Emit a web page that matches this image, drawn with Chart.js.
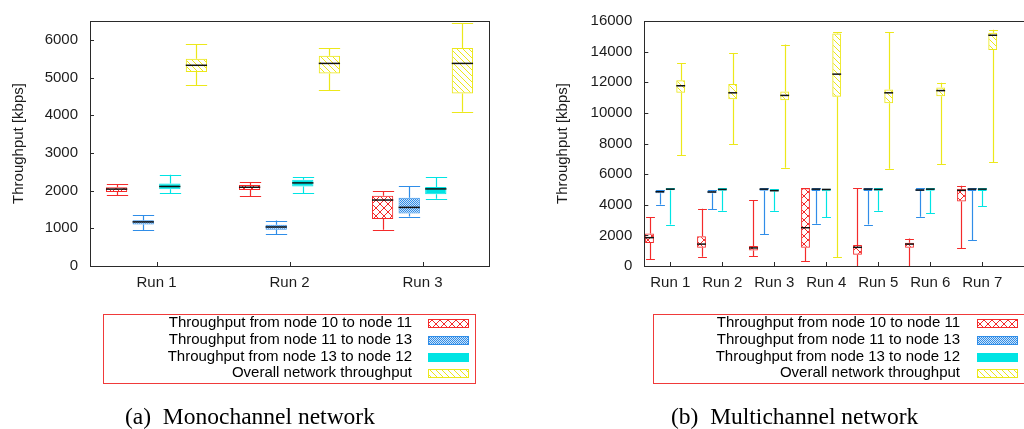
<!DOCTYPE html>
<html><head><meta charset="utf-8">
<script src="https://cdn.jsdelivr.net/npm/chart.js@4.4.1/dist/chart.umd.min.js"></script>
<style>
html,body{margin:0;padding:0;background:#fff;overflow:hidden;width:1024px;height:429px;}
#c1{position:absolute;left:0;top:0;}
#c2{position:absolute;left:512px;top:0;}
.cap{position:absolute;font-family:"Liberation Serif","Times New Roman",serif;font-size:23.5px;line-height:26px;color:#000;white-space:pre;}
#capA{left:125px;top:403px;}
#capB{left:671px;top:403px;}
</style></head><body>
<canvas id="c1" width="512" height="429"></canvas>
<canvas id="c2" width="560" height="429"></canvas>
<div class="cap" id="capA">(a)  Monochannel network</div>
<div class="cap" id="capB">(b)  Multichannel network</div>
<script>
// ---------- data ----------
const seriesNames = ['Throughput from node 10 to node 11','Throughput from node 11 to node 13','Throughput from node 13 to node 12','Overall network throughput'];

// (a) Monochannel
const runsA = ['Run 1','Run 2','Run 3'];
const yTicksA = [0,1000,2000,3000,4000,5000,6000];
const redA_min = [1880,1850,965],  redA_q1 = [1960,2017,1250], redA_med = [2040,2090,1750], redA_q3 = [2090,2150,1865], redA_max = [2170,2220,1985];
const blueA_min = [950,850,1310],  blueA_q1 = [1100,965,1395], blueA_med = [1170,1035,1555], blueA_q3 = [1215,1095,1810], blueA_max = [1350,1205,2110];
const cyanA_min = [1940,1935,1785], cyanA_q1 = [2035,2110,1905], cyanA_med = [2110,2205,2045], cyanA_q3 = [2190,2290,2095], cyanA_max = [2420,2360,2360];
const yelA_min = [4800,4660,4095], yelA_q1 = [5145,5110,4575], yelA_med = [5325,5375,5375], yelA_q3 = [5500,5580,5785], yelA_max = [5880,5785,6445];

// (b) Multichannel
const runsB = ['Run 1','Run 2','Run 3','Run 4','Run 5','Run 6','Run 7',''];
const yTicksB = [0,2000,4000,6000,8000,10000,12000,14000,16000];
const redB_min = [440,610,650,295,0,0,1180];
const redB_q1  = [1510,1200,1010,1200,735,1200,4205];
const redB_med = [1850,1430,1180,2500,1220,1430,4940];
const redB_q3  = [2120,1935,1300,5085,1365,1515,5045];
const redB_max = [3170,3740,4310,5090,5090,1790,5235];
const blueB_min = [4015,3700,2080,2755,2710,3215,1680];
const blueB_q1  = [4750,4750,4920,4900,4900,4900,4900];
const blueB_med = [4850,4835,5020,5020,5020,4960,5020];
const blueB_q3  = [4940,4940,5050,5050,5050,5040,5050];
const blueB_max = [4960,4960,5066,5066,5066,5066,5066];
const cyanB_min = [2710,3615,3615,3175,3615,3445,3890];
const cyanB_q1  = [4940,4920,4860,4880,4920,4920,4900];
const cyanB_med = [5020,5000,4920,5000,5000,5020,5020];
const cyanB_q3  = [5050,5040,5000,5040,5040,5050,5050];
const cyanB_max = [5066,5066,5020,5050,5066,5066,5066];
const yelB_min = [7230,7970,6410,590,6350,6660,6790];
const yelB_q1  = [11310,10890,10825,11060,10635,11080,14105];
const yelB_med = [11770,11310,11140,12530,11310,11455,15070];
const yelB_q3  = [12130,11880,11390,15180,11520,11665,15240];
const yelB_max = [13260,13890,14460,15280,15280,11960,15430];

// ---------- styles ----------
const COLORS = ['#f42a2a','#2f8de8','#00e4e4','#ece81a'];
const FONT = '"Liberation Sans", Arial, sans-serif';
const TXT = '#1c1c1c';

function makePattern(kind, color){
  const c = document.createElement('canvas');
  const s = kind==='cross' ? 8 : kind==='fine' ? 2 : kind==='diag' ? 6 : 1;
  c.width = c.height = s;
  const g = c.getContext('2d');
  g.fillStyle = color;
  if (kind==='solid'){ g.fillRect(0,0,1,1); }
  else if (kind==='cross'){ for(let i=0;i<s;i++){ g.fillRect(i,i,1,1); g.fillRect(s-1-i,i,1,1);} }
  else if (kind==='fine'){ g.fillStyle='#cfe3f8'; g.fillRect(0,0,2,2); g.fillStyle=color; g.fillRect(0,0,1,1); g.fillRect(1,1,1,1); }
  else if (kind==='diag'){ for(let i=0;i<s;i++){ g.fillRect(i,i,1,1);} }
  return g.createPattern(c,'repeat');
}
const KINDS = ['cross','fine','solid','diag'];

function boxDatasets(stats){
  return stats.map((s,k)=>({
    label: seriesNames[k],
    data: s.q1.map((v,i)=>[v, s.q3[i]]),
    stats: s,
    backgroundColor: makePattern(KINDS[k], COLORS[k]),
    borderColor: COLORS[k],
    borderWidth: 1,
    borderSkipped: false
  }));
}

const boxPlugin = {
  id: 'boxWhisker',
  beforeDatasetsDraw(chart){
    const ctx = chart.ctx, ys = chart.scales.y, ca = chart.chartArea;
    ctx.save();
    ctx.beginPath(); ctx.rect(ca.left, ca.top, ca.right-ca.left, ca.bottom-ca.top); ctx.clip();
    chart.data.datasets.forEach((ds,di)=>{
      if(!ds.stats) return;
      const meta = chart.getDatasetMeta(di);
      meta.data.forEach((el,i)=>{
        const st = ds.stats; if(st.min[i]==null) return;
        const x = Math.round(el.x)+0.5, hw = el.width/2;
        const yMin = ys.getPixelForValue(st.min[i]), yQ1 = ys.getPixelForValue(st.q1[i]);
        const yQ3 = ys.getPixelForValue(st.q3[i]), yMax = ys.getPixelForValue(st.max[i]);
        ctx.strokeStyle = ds.borderColor; ctx.lineWidth = 1.2;
        ctx.beginPath();
        ctx.moveTo(x, yMin); ctx.lineTo(x, yQ1);
        ctx.moveTo(x, yQ3); ctx.lineTo(x, yMax);
        ctx.moveTo(x-hw, Math.round(yMin)+0.5); ctx.lineTo(x+hw, Math.round(yMin)+0.5);
        ctx.moveTo(x-hw, Math.round(yMax)+0.5); ctx.lineTo(x+hw, Math.round(yMax)+0.5);
        ctx.stroke();
      });
    });
    ctx.restore();
  },
  afterDatasetsDraw(chart){
    const ctx = chart.ctx, ys = chart.scales.y;
    ctx.save();
    chart.data.datasets.forEach((ds,di)=>{
      if(!ds.stats) return;
      const meta = chart.getDatasetMeta(di);
      meta.data.forEach((el,i)=>{
        const st = ds.stats; if(st.med[i]==null) return;
        const hw = el.width/2, y = ys.getPixelForValue(st.med[i]);
        ctx.strokeStyle = '#111'; ctx.lineWidth = 1.5;
        ctx.beginPath(); ctx.moveTo(el.x-hw, y); ctx.lineTo(el.x+hw, y); ctx.stroke();
      });
    });
    ctx.restore();
  }
};

const framePlugin = {
  id: 'frame',
  afterDraw(chart, args, opts){
    const ctx = chart.ctx, ca = chart.chartArea, xs = chart.scales.x, ys = chart.scales.y;
    ctx.save();
    ctx.strokeStyle = '#2a2a2a'; ctx.lineWidth = 1;
    ctx.strokeRect(Math.round(ca.left)+0.5, Math.round(ca.top)+0.5, Math.round(ca.right-ca.left), Math.round(ca.bottom-ca.top));
    ctx.beginPath();
    ys.ticks.forEach(t=>{ const y = Math.round(ys.getPixelForValue(t.value))+0.5; ctx.moveTo(ca.left, y); ctx.lineTo(ca.left+4, y); });
    xs.ticks.forEach((t,i)=>{ if(!xs.getLabels()[i]) return; const x = Math.round(xs.getPixelForValue(i))+0.5; ctx.moveTo(x, ca.bottom); ctx.lineTo(x, ca.bottom-4); });
    ctx.stroke();
    // legend
    const L = opts;
    ctx.strokeStyle = '#f03a3a'; ctx.lineWidth = 1;
    ctx.strokeRect(L.box[0]+0.5, L.box[1]+0.5, L.box[2], L.box[3]);
    ctx.font = '15px ' + FONT; ctx.textAlign = 'right'; ctx.textBaseline = 'middle';
    chart.data.datasets.forEach((ds,k)=>{
      if(!ds.stats) return;
      const y = L.rows[k];
      ctx.fillStyle = '#000';
      ctx.fillText(ds.label, L.textRight, y);
      const top = Math.round(y-4);
      ctx.fillStyle = ds.backgroundColor; ctx.fillRect(L.swX, top, 40, 8);
      ctx.strokeStyle = ds.borderColor; ctx.strokeRect(L.swX+0.5, top+0.5, 40, 8);
    });
    ctx.restore();
  }
};

function makeChart(id, labels, stats, yMax, yTicks, o){
  const datasets = boxDatasets(stats);
  if (o.dummy) datasets.push({label:'', data: labels.map(()=>null), backgroundColor:'rgba(0,0,0,0)'});
  return new Chart(document.getElementById(id), {
    type: 'bar',
    data: { labels, datasets },
    options: {
      responsive: false, animation: false, devicePixelRatio: 1,
      layout: { padding: o.pad },
      datasets: { bar: { categoryPercentage: o.catPct, barPercentage: o.barPct, grouped: true } },
      plugins: { legend: {display:false}, tooltip: {enabled:false}, frame: o.legend },
      scales: {
        x: {
          type: 'category',
          grid: {display:false, drawTicks:false}, border: {display:false},
          ticks: { font: {family: FONT, size: 15}, color: TXT, padding: 8, maxRotation: 0, autoSkip: false },
          afterFit(s){ s.height = 30; }
        },
        y: {
          min: 0, max: yMax,
          grid: {display:false, drawTicks:false}, border: {display:false},
          ticks: { font: {family: FONT, size: 15}, color: TXT, padding: 12, callback: (v)=>String(v) },
          afterBuildTicks(s){ s.ticks = yTicks.map(v=>({value:v})); },
          title: { display: true, text: 'Throughput [kbps]', font: {family: FONT, size: 15}, color: TXT, padding: {top: o.titlePad, bottom: 0} },
          afterFit(s){ s.width = o.yW; }
        }
      }
    },
    plugins: [boxPlugin, framePlugin]
  });
}

const statsA = [
  {min:redA_min, q1:redA_q1, med:redA_med, q3:redA_q3, max:redA_max},
  {min:blueA_min, q1:blueA_q1, med:blueA_med, q3:blueA_q3, max:blueA_max},
  {min:cyanA_min, q1:cyanA_q1, med:cyanA_med, q3:cyanA_q3, max:cyanA_max},
  {min:yelA_min, q1:yelA_q1, med:yelA_med, q3:yelA_q3, max:yelA_max}
];
const statsB = [
  {min:redB_min, q1:redB_q1, med:redB_med, q3:redB_q3, max:redB_max},
  {min:blueB_min, q1:blueB_q1, med:blueB_med, q3:blueB_q3, max:blueB_max},
  {min:cyanB_min, q1:cyanB_q1, med:cyanB_med, q3:cyanB_q3, max:cyanB_max},
  {min:yelB_min, q1:yelB_q1, med:yelB_med, q3:yelB_q3, max:yelB_max}
];

makeChart('c1', runsA, statsA, 6500, yTicksA, {
  pad: {left:0, right:23, top:12, bottom:133}, yW: 90, titlePad: 9.5,
  catPct: 0.8, barPct: 0.8, dummy: false,
  legend: {box:[103,314,372,69], rows:[322.7,339.5,356.5,373.3], textRight:412, swX:428}
});
makeChart('c2', runsB, statsB, 16000, yTicksB, {
  pad: {left:0, right:11.7, top:12, bottom:133}, yW: 132.3, titlePad: 42.3,
  catPct: 1.0, barPct: 0.85, dummy: true,
  legend: {box:[141,314,372,69], rows:[322.7,339.5,356.5,373.3], textRight:448, swX:465}
});
</script>
</body></html>
